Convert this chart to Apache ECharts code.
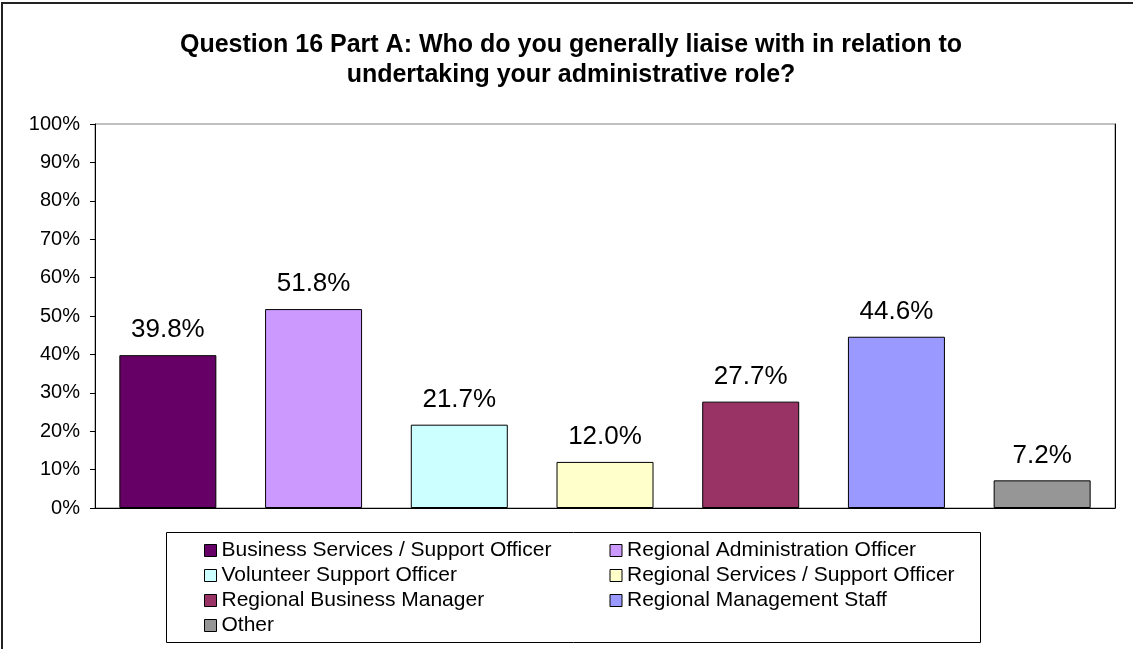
<!DOCTYPE html>
<html>
<head>
<meta charset="utf-8">
<script src="https://cdn.jsdelivr.net/npm/echarts@6/dist/echarts.min.js"></script>
<style>
  html, body { margin: 0; padding: 0; background: #fff; }
  #chart { width: 1133px; height: 649px; }
</style>
</head>
<body>
<div id="chart"></div>
<script>
// Survey answers: share of respondents for each contact type
const categories = [
  'Business Services / Support Officer',
  'Regional Administration Officer',
  'Volunteer Support Officer',
  'Regional Services / Support Officer',
  'Regional Business Manager',
  'Regional Management Staff',
  'Other'
];
const values = [39.8, 51.8, 21.7, 12.0, 27.7, 44.6, 7.2];
const colors = ['#660066', '#CC99FF', '#CCFFFF', '#FFFFCC', '#993366', '#9999FF', '#969696'];
const yTicks = [0, 10, 20, 30, 40, 50, 60, 70, 80, 90, 100];

const FONT = 'Arial, "Liberation Sans", sans-serif';

// one series per contact type so the legend lists every bar
const series = categories.map((name, i) => ({
  name: name,
  type: 'bar',
  barWidth: 97,
  barGap: '-100%',
  data: categories.map((_, j) => (j === i ? values[i] : '-')),
  itemStyle: { color: colors[i], borderColor: '#000', borderWidth: 1 },
  label: {
    show: true,
    position: 'top',
    distance: 12,
    fontFamily: FONT,
    fontSize: 26,
    color: '#000',
    formatter: p => Number(p.value).toFixed(1) + '%'
  },
  emphasis: { disabled: true }
}));

const chart = echarts.init(document.getElementById('chart'));
chart.setOption({
  animation: false,
  backgroundColor: '#fff',
  title: {
    text: 'Question 16 Part A: Who do you generally liaise with in relation to\nundertaking your administrative role?',
    left: 566,
    top: 25,
    textAlign: 'center',
    textStyle: {
      fontFamily: FONT,
      fontSize: 25,
      fontWeight: 'bold',
      color: '#000',
      lineHeight: 30
    }
  },
  grid: {
    left: 95,
    right: 18,
    top: 124,
    bottom: 141,
    show: true,
    borderColor: '#808080',
    borderWidth: 1
  },
  legend: {
    left: 199,
    top: 535,
    width: 830,
    itemWidth: 12,
    itemHeight: 12,
    itemGap: 4,
    icon: 'rect',
    selectedMode: false,
    itemStyle: { borderColor: '#000', borderWidth: 1 },
    textStyle: {
      fontFamily: FONT,
      fontSize: 21,
      lineHeight: 20,
      color: '#000',
      width: 384
    },
    data: categories
  },
  xAxis: {
    type: 'category',
    data: categories,
    axisLine: { show: true, lineStyle: { color: '#000', width: 1 } },
    axisTick: { show: false },
    axisLabel: { show: false },
    splitLine: { show: false }
  },
  yAxis: [
    {
      type: 'value',
      min: yTicks[0],
      max: yTicks[yTicks.length - 1],
      interval: yTicks[1] - yTicks[0],
      axisLine: { show: true, lineStyle: { color: '#000', width: 1 } },
      axisTick: { show: true, inside: false, length: 5, lineStyle: { color: '#000' } },
      axisLabel: {
        margin: 15,
        fontFamily: FONT,
        fontSize: 20,
        color: '#000',
        formatter: '{value}%'
      },
      splitLine: { show: false }
    },
    {
      type: 'value',
      position: 'right',
      min: yTicks[0],
      max: yTicks[yTicks.length - 1],
      interval: yTicks[1] - yTicks[0],
      axisLine: { show: true, lineStyle: { color: '#000', width: 1 } },
      axisTick: { show: false },
      axisLabel: { show: false },
      splitLine: { show: false }
    }
  ],
  graphic: [
    {
      type: 'rect',
      shape: { x: 2, y: 3, width: 1160, height: 700 },
      style: { fill: 'none', stroke: '#222', lineWidth: 2 },
      silent: true,
      z: 100
    },
    {
      type: 'rect',
      shape: { x: 166.5, y: 532.5, width: 814, height: 110 },
      style: { fill: 'none', stroke: '#000', lineWidth: 1 },
      silent: true,
      z: 100
    }
  ],
  series: series
});
</script>
</body>
</html>
